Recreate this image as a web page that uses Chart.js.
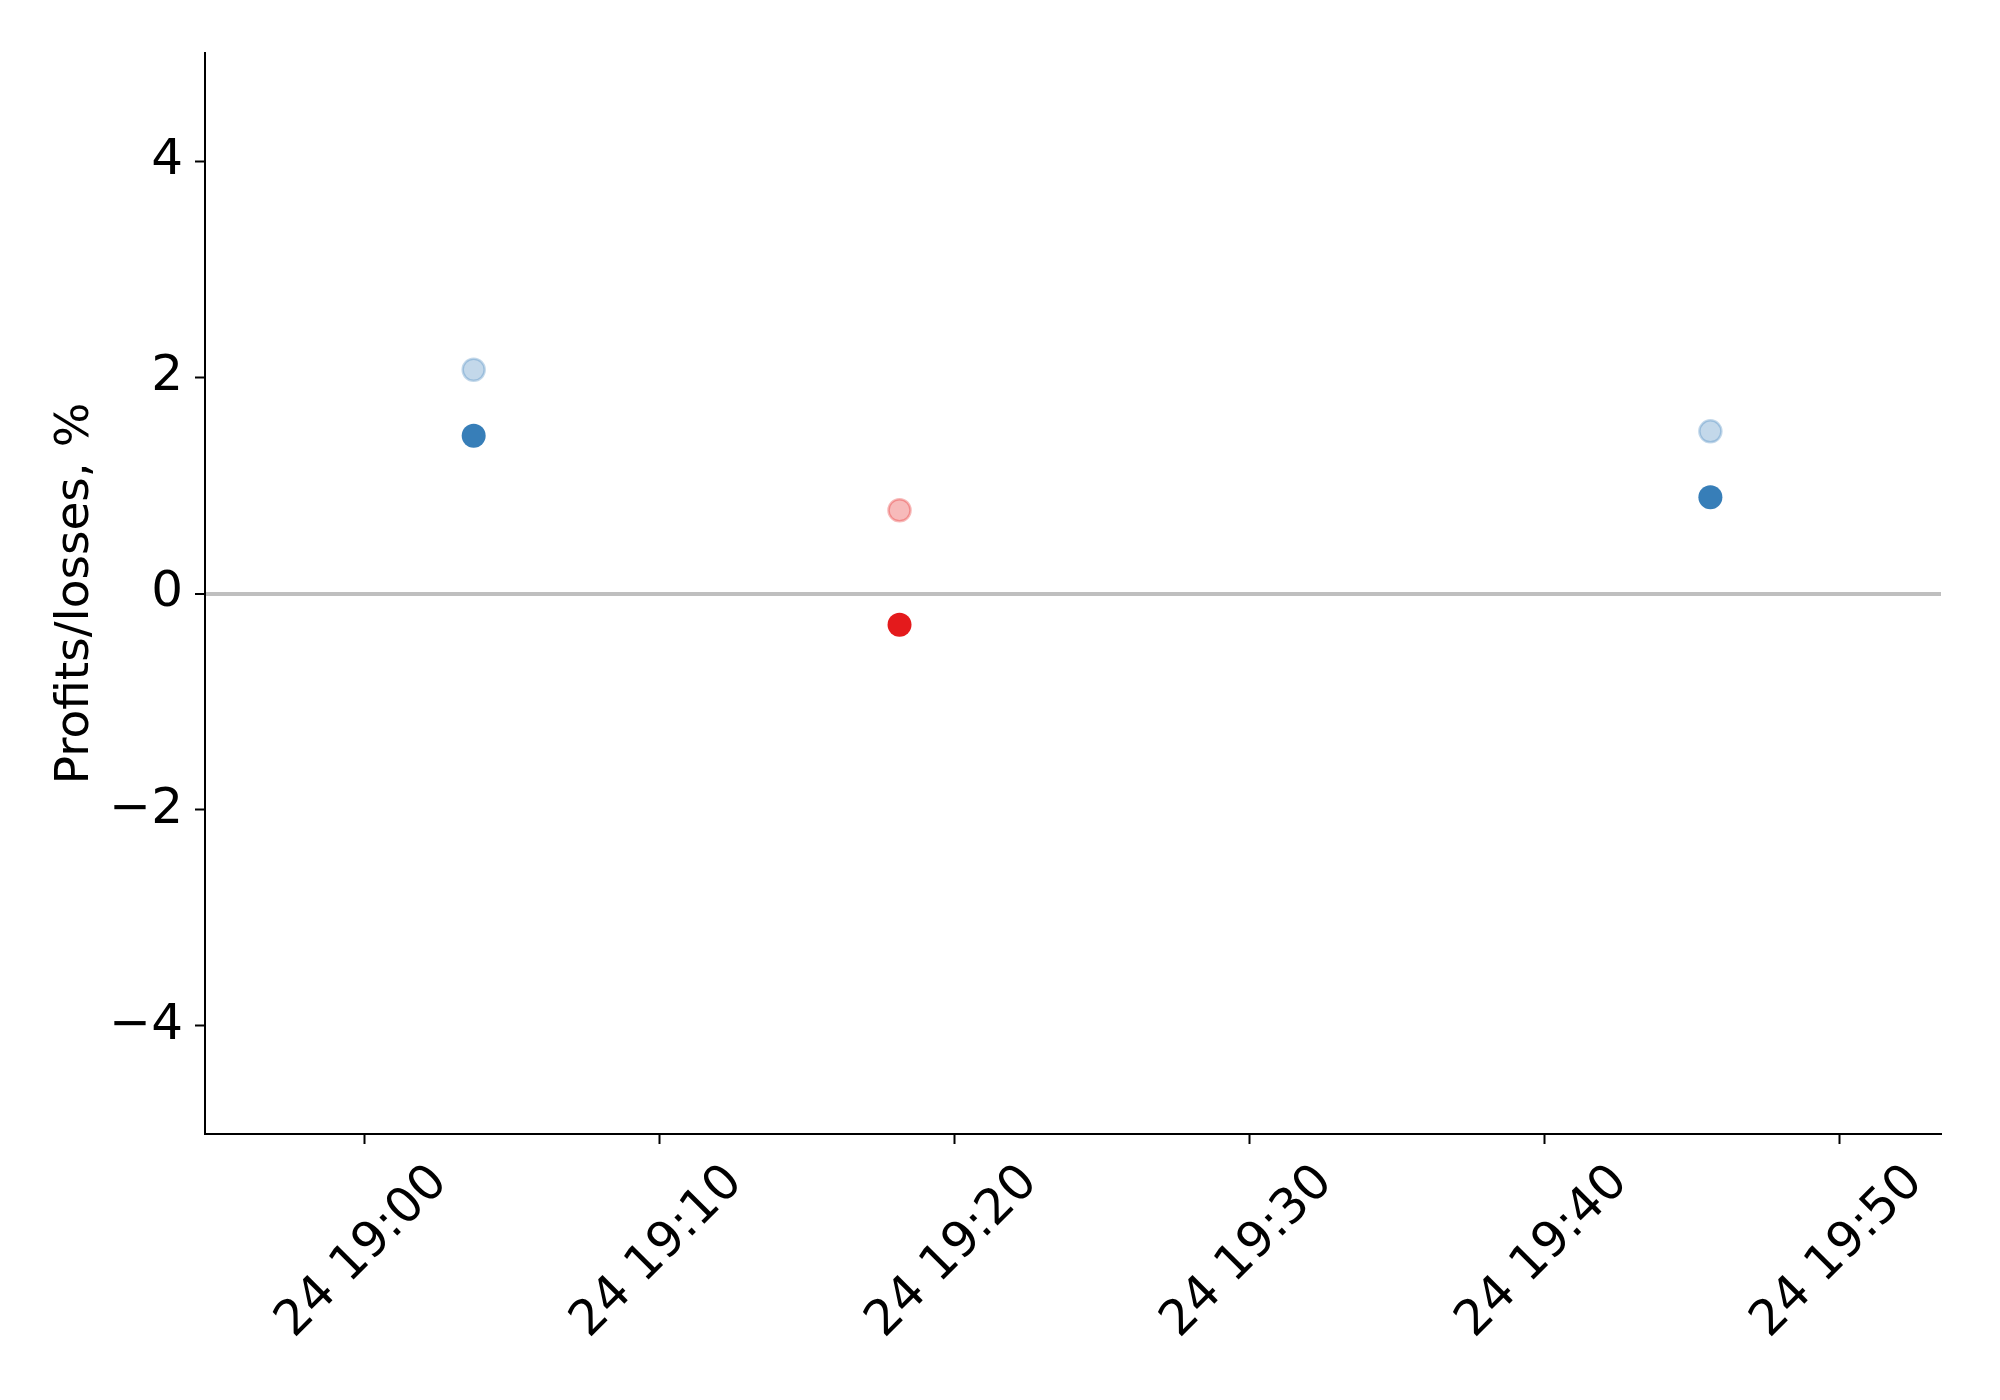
<!DOCTYPE html>
<html>
<head>
<meta charset="utf-8">
<script src="https://cdn.jsdelivr.net/npm/chart.js@4"></script>
<style>
  html, body { margin: 0; padding: 0; background: #fff; }
  #wrap { width: 2000px; height: 1400px; }
</style>
</head>
<body>
<div id="wrap"><canvas id="chart1" width="2000" height="1400"></canvas></div>
<script>
// trade close times (day 24) and result in %
const tradeTimes = ['19:03:43', '19:18:09', '19:45:38'];
const closeValues = [1.46, -0.29, 0.89];
const peakValues = [2.07, 0.77, 1.50];
const xTickLabels = ['24 19:00', '24 19:10', '24 19:20', '24 19:30', '24 19:40', '24 19:50'];
const xTickMinutes = [0, 10, 20, 30, 40, 50];
const yTicks = [-4, -2, 0, 2, 4];

// minutes after 19:00
const toMin = t => {
    const p = t.split(':').map(Number);
    return (p[0] - 19) * 60 + p[1] + p[2] / 60;
};
const xs = tradeTimes.map(toMin);

const blue = '55, 126, 184';
const red = '228, 26, 28';
const rgbFor = v => (v >= 0 ? blue : red);

const ctx1 = document.getElementById('chart1').getContext('2d');
const chart1 = new Chart(ctx1, {
    type: 'scatter',
    data: {
        datasets: [{
            label: 'peak',
            data: xs.map((x, i) => ({ x: x, y: peakValues[i] })),
            pointRadius: 11,
            pointBackgroundColor: closeValues.map(v => 'rgba(' + rgbFor(v) + ', 0.3)'),
            pointBorderColor: closeValues.map(v => 'rgba(' + rgbFor(v) + ', 0.3)'),
            pointBorderWidth: 2.5
        }, {
            label: 'close',
            data: xs.map((x, i) => ({ x: x, y: closeValues[i] })),
            pointRadius: 12,
            pointBackgroundColor: closeValues.map(v => 'rgb(' + rgbFor(v) + ')'),
            pointBorderColor: closeValues.map(v => 'rgb(' + rgbFor(v) + ')'),
            pointBorderWidth: 0
        }]
    },
    options: {
        responsive: false,
        animation: false,
        layout: { padding: { top: 53, right: 59, left: 0, bottom: 0 } },
        plugins: {
            legend: { display: false },
            tooltip: { enabled: false }
        },
        scales: {
            x: {
                type: 'linear',
                min: -5.39,
                max: 53.45,
                afterBuildTicks: s => { s.ticks = xTickMinutes.map(v => ({ value: v })); },
                afterFit: s => { s.height = 266; },
                border: { display: true, color: '#000', width: 2 },
                grid: { drawOnChartArea: false, color: '#000', tickLength: 10, tickWidth: 2 },
                ticks: {
                    autoSkip: false,
                    maxRotation: 45,
                    minRotation: 45,
                    padding: 10,
                    labelOffset: 76,
                    color: '#000',
                    font: { family: 'DejaVu Sans', size: 49 },
                    callback: v => xTickLabels[xTickMinutes.indexOf(v)]
                }
            },
            y: {
                min: -5,
                max: 5,
                afterBuildTicks: s => { s.ticks = yTicks.map(v => ({ value: v })); },
                afterFit: s => { s.width = 205; },
                border: { display: true, color: '#000', width: 2 },
                grid: {
                    color: c => (c.tick && c.tick.value === 0 ? '#bfbfbf' : 'rgba(0,0,0,0)'),
                    lineWidth: c => (c.tick && c.tick.value === 0 ? 4 : 1),
                    tickColor: '#000',
                    tickWidth: 2,
                    tickLength: 10
                },
                ticks: {
                    padding: 12,
                    color: '#000',
                    font: { family: 'DejaVu Sans', size: 50 },
                    callback: v => (v < 0 ? '\u2212' + Math.abs(v) : String(v))
                },
                title: {
                    display: true,
                    text: 'Profits/losses, %',
                    color: '#000',
                    font: { family: 'DejaVu Sans', size: 47, weight: 'normal' },
                    padding: { top: 48, bottom: 0 }
                }
            }
        }
    }
});
</script>
</body>
</html>
